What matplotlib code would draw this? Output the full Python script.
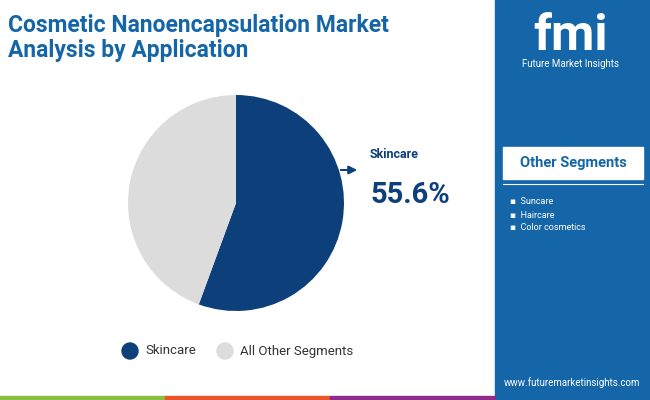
import matplotlib.pyplot as plt
from matplotlib.patches import Rectangle, Circle

labels = ['Skincare', 'All Other Segments']
shares = [55.6, 44.4]
colors = ['#0d3f7a', '#dcdcdc']
others = ['Suncare', 'Haircare', 'Color cosmetics']

plt.rcParams['font.family'] = ['Roboto', 'DejaVu Sans']
W, H = 650, 400
fig = plt.figure(figsize=(6.5, 4), dpi=100)
bg = fig.add_axes([0, 0, 1, 1])
bg.set_xlim(0, W); bg.set_ylim(H, 0); bg.axis('off')

# right panel
bg.add_patch(Rectangle((495, 0), 155, 400, color='#1466a8'))
bg.add_patch(Rectangle((503, 147), 140, 32, color='white'))
bg.text(573, 163, 'Other Segments', ha='center', va='center', fontsize=10.5,
        fontweight='bold', color='#1466a8')
bg.plot([503, 643], [184, 184], color='white', lw=0.8)
for i, s in enumerate(others):
    bg.text(510, 202 + i * 13, '▪  ' + s, fontsize=6.5, color='white', va='center')
bg.text(571, 36, 'fmi', ha='center', va='center', fontsize=36, fontweight='bold', color='white')
bg.text(571, 64, 'Future Market Insights', ha='center', va='center', fontsize=7, color='white')
bg.text(572, 383, 'www.futuremarketinsights.com', ha='center', va='center', fontsize=7, color='white')

# bottom bars
for x0, c in zip([0, 165, 330], ['#8cbf3f', '#e8562a', '#8e2c8c']):
    bg.add_patch(Rectangle((x0, 396), 165, 4, color=c))

# title
bg.text(8, 38, 'Cosmetic Nanoencapsulation Market\nAnalysis by Application', fontsize=16.5,
        fontweight='bold', color='#1466a8', va='center', linespacing=1.1)

# pie
ax = fig.add_axes([(236 - 108) / W, 1 - (203 + 108) / H, 216 / W, 216 / H])
ax.pie(shares, colors=colors, startangle=90, counterclock=False, radius=1)
ax.set_xlim(-1, 1); ax.set_ylim(-1, 1)
ax.set_aspect('equal')

bg.annotate('', xy=(360, 170), xytext=(338, 170),
            arrowprops=dict(arrowstyle='-|>', color='#0d3f7a', lw=1.5, mutation_scale=12))
bg.text(370, 155, 'Skincare', fontsize=9, fontweight='bold', color='#0d3f7a', va='center')
bg.text(370, 195, '55.6%', fontsize=21, fontweight='bold', color='#0d3f7a', va='center')

# legend
for x, lab, c in zip([130, 225], labels, colors):
    bg.add_patch(Circle((x, 351), 8, color=c))
    bg.text(x + 15, 351, lab, fontsize=9.5, va='center', color='#333333')

fig.savefig('out.png', dpi=100)
